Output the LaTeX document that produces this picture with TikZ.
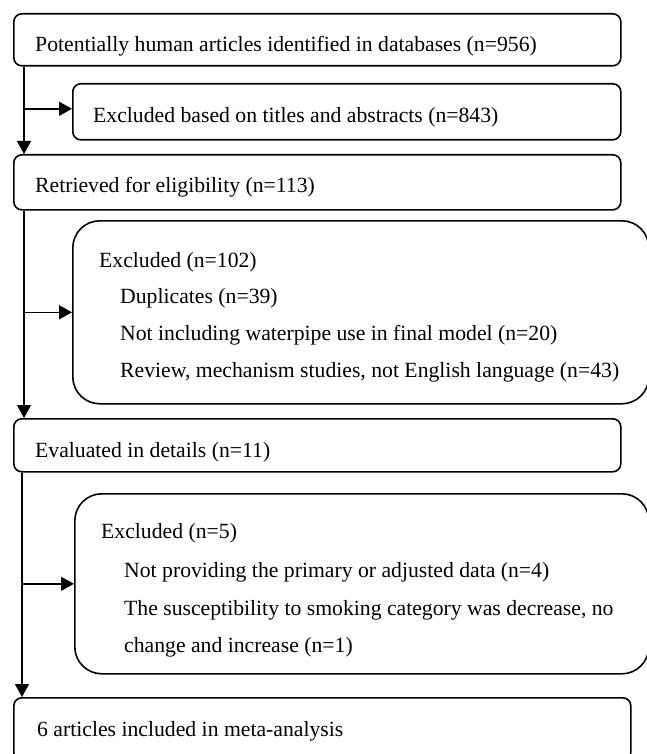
\documentclass[tikz,border=0pt]{standalone}
\usepackage{fontspec}
\setmainfont{Liberation Serif}
\usetikzlibrary{arrows.meta}
\begin{document}
\begin{tikzpicture}[x=1pt,y=-1pt,
  box/.style={draw, line width=1.6pt, rounded corners=8pt, anchor=north west, inner sep=0pt},
  bigbox/.style={box, rounded corners=27pt},
  txt/.style={anchor=base west, inner sep=0pt, font=\fontsize{21.7}{26}\selectfont},
  arr/.style={line width=1.6pt, -{Triangle[length=13pt,width=14pt]}}]
\useasboundingbox (0,0) rectangle (646,754);
% boxes
\node[box, minimum width=607pt, minimum height=52pt] (b1) at (13,13) {};
\node[box, minimum width=548pt, minimum height=56pt] (e1) at (72,83) {};
\node[box, minimum width=607pt, minimum height=55pt] (b2) at (13,154) {};
\node[bigbox, minimum width=576pt, minimum height=183pt] (e2) at (72,220) {};
\node[box, minimum width=607pt, minimum height=53pt] (b3) at (13,418) {};
\node[bigbox, minimum width=574pt, minimum height=180pt] (e3) at (74,493) {};
\node[box, minimum width=617pt, minimum height=63pt] (b4) at (13,697) {};
% texts
\node[txt] (t1) at (35,52) {Potentially human articles identified in databases (n=956)};
\node[txt] (te1) at (93,123) {Excluded based on titles and abstracts (n=843)};
\node[txt] (t2) at (35,192) {Retrieved for eligibility (n=113)};
\node[txt] (te2a) at (99,267) {Excluded (n=102)};
\node[txt] (te2b) at (120,303) {Duplicates (n=39)};
\node[txt] (te2c) at (120,340) {Not including waterpipe use in final model (n=20)};
\node[txt] (te2d) at (120,377) {Review, mechanism studies, not English language (n=43)};
\node[txt] (t3) at (35,457) {Evaluated in details (n=11)};
\node[txt] (te3a) at (101,538) {Excluded (n=5)};
\node[txt] (te3b) at (124,577) {Not providing the primary or adjusted data (n=4)};
\node[txt] (te3c) at (124,615) {The susceptibility to smoking category was decrease, no};
\node[txt] (te3d) at (124,652) {change and increase (n=1)};
\node[txt] (t4) at (37,736) {6 articles included in meta-analysis};
% connectors
\draw[arr] ([xshift=11pt]b1.south west) -- ([xshift=11pt]b2.north west);
\draw[arr] ([xshift=11pt,yshift=3pt]b1.south west |- e1.west) -- ([yshift=3pt]e1.west);
\draw[arr] ([xshift=11pt]b2.south west) -- ([xshift=11pt]b3.north west);
\draw[arr] ([xshift=11pt]b2.south west |- e2.west) -- (e2.west);
\draw[arr] ([xshift=9pt]b3.south west) -- ([xshift=9pt]b4.north west);
\draw[arr] ([xshift=9pt]b3.south west |- e3.west) -- (e3.west);
\end{tikzpicture}
\end{document}
